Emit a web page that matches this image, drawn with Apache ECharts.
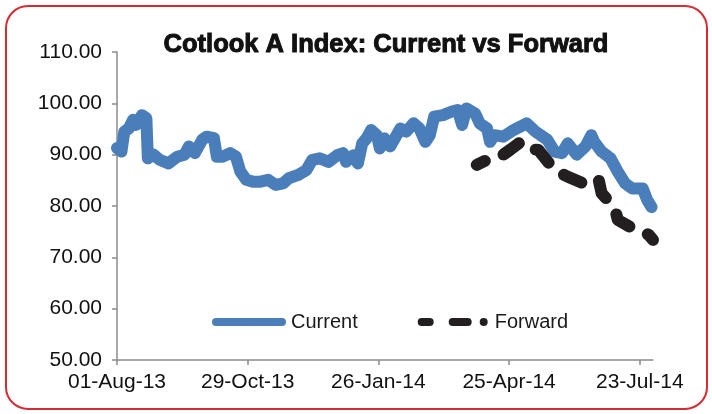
<!DOCTYPE html>
<html>
<head>
<meta charset="utf-8">
<script src="https://cdn.jsdelivr.net/npm/echarts@6/dist/echarts.min.js"></script>
<style>
html,body{margin:0;padding:0;background:#fff;}
#chart{width:712px;height:414px;}
</style>
</head>
<body>
<div id="chart"></div>
<script>
// Days since 01-Aug-2013
var currentDays = [0,3,5,8,11,13,17,20,21,25,29,35,41,46,49,53,58,61,66,68,72,77,81,84,88,93,97,103,108,113,117,123,129,133,138,144,150,154,156,161,164,167,170,173,177,179,182,186,193,197,202,206,210,213,216,222,228,232,235,238,244,247,252,254,257,263,270,279,285,293,298,303,307,313,319,323,325,330,336,341,346,351,358,361,364];
var currentValues = [91.3,90.6,94.5,95.1,96.8,95.8,97.7,97.1,89.3,90.0,89.0,88.3,89.6,90.0,91.6,90.3,92.9,93.5,93.2,89.6,89.6,90.3,89.6,86.7,85.1,84.7,84.7,85.1,84.1,84.4,85.4,86.0,87.0,89.0,89.3,88.6,89.9,90.3,88.6,89.9,88.3,92.2,93.2,94.8,93.8,91.2,93.2,91.6,95.1,94.5,96.1,95.1,92.5,93.8,97.4,97.7,98.4,98.7,95.8,99.0,98.0,96.1,95.1,92.5,93.8,93.5,94.8,96.1,94.5,92.9,90.6,90.3,92.2,90.0,91.6,93.8,92.5,90.6,89.3,86.7,84.4,83.4,83.4,81.2,79.8];
var forwardDays = [245,252,261,268,275,280,287,298,307,320,328,330,339,341,349,362,365];
var forwardValues = [88.0,89.0,89.6,91.0,92.5,91.2,90.9,87.0,85.7,84.1,85.1,82.5,79.6,77.3,76.0,74.4,73.4];
var xTickDays = [0,89,178,267,356];
var yTicks = [50,60,70,80,90,100,110];
var seriesNames = ['Current','Forward'];
var titleText = 'Cotlook A Index: Current vs Forward';

var MONTHS = ['Jan','Feb','Mar','Apr','May','Jun','Jul','Aug','Sep','Oct','Nov','Dec'];
var BASE = Date.UTC(2013,7,1);
function fmtDay(v){
  var d = new Date(BASE + v*86400000);
  var dd = ('0'+d.getUTCDate()).slice(-2);
  var yy = ('0'+(d.getUTCFullYear()%100)).slice(-2);
  return dd+'-'+MONTHS[d.getUTCMonth()]+'-'+yy;
}
function pairs(xs, ys){ return xs.map(function(x,i){return [x, ys[i]];}); }

// legend glyphs (rounded bar, and dash-dash-dot)
var ICON_SOLID = 'path://M4,0H70A4,4 0 0 1 70,8H4A4,4 0 0 1 4,0Z';
var ICON_DASH = 'path://M4,0H12A4,4 0 0 1 12,8H4A4,4 0 0 1 4,0Z' +
  'M35,0H50A4,4 0 0 1 50,8H35A4,4 0 0 1 35,0Z' +
  'M66,0A4,4 0 0 1 66,8A4,4 0 0 1 66,0Z';

var FONT = '"Liberation Sans", Arial, sans-serif';
var chart = echarts.init(document.getElementById('chart'), null, {renderer:'canvas'});
chart.setOption({
  animation:false,
  backgroundColor:'#ffffff',
  title:{
    text:titleText, left:381, top:27, textAlign:'center',
    textStyle:{fontFamily:FONT, fontSize:25.5, fontWeight:'bold', color:'#111111',
      textBorderColor:'#111111', textBorderWidth:1}
  },
  graphic:[{
    type:'rect', silent:true, z:100,
    shape:{x:6, y:6, width:701, height:403, r:22},
    style:{fill:'none', stroke:'#d52b33', lineWidth:2}
  }],
  legend:{
    left:212, top:312, padding:0, itemWidth:74, itemHeight:8, itemGap:60,
    textStyle:{fontFamily:FONT, fontSize:20, color:'#1a1a1a'},
    data:[{name:seriesNames[0], icon:ICON_SOLID}, {name:seriesNames[1], icon:ICON_DASH}]
  },
  grid:{left:117, right:59, top:52, bottom:54, containLabel:false},
  xAxis:{
    type:'value', min:0, max:365,
    axisLine:{lineStyle:{color:'#8c8c8c', width:1.5}},
    axisTick:{customValues:xTickDays, length:5, lineStyle:{color:'#8c8c8c', width:1.5}},
    axisLabel:{customValues:xTickDays, formatter:fmtDay, margin:12,
      fontFamily:FONT, fontSize:21, color:'#111111'},
    splitLine:{show:false}
  },
  yAxis:{
    type:'value', min:yTicks[0], max:yTicks[yTicks.length-1], interval:10,
    axisLine:{show:true, lineStyle:{color:'#8c8c8c', width:1.5}},
    axisTick:{show:true, length:5, lineStyle:{color:'#8c8c8c', width:1.5}},
    axisLabel:{formatter:function(v){return v.toFixed(2);}, margin:15,
      fontFamily:FONT, fontSize:21, color:'#111111'},
    splitLine:{show:false}
  },
  series:[
    {name:seriesNames[0], type:'line', showSymbol:false, symbol:'none',
     data:pairs(currentDays,currentValues), color:'#4a7ebb', z:2,
     itemStyle:{color:'#4a7ebb'},
     lineStyle:{color:'#4a7ebb', width:12, cap:'round', join:'round'}},
    {name:seriesNames[1], type:'line', showSymbol:false, symbol:'none',
     data:pairs(forwardDays,forwardValues), color:'#231f20', z:3,
     itemStyle:{color:'#231f20'},
     lineStyle:{color:'#231f20', width:12, cap:'round', join:'round', type:[19,20], dashOffset:10}}
  ]
});
</script>
</body>
</html>
